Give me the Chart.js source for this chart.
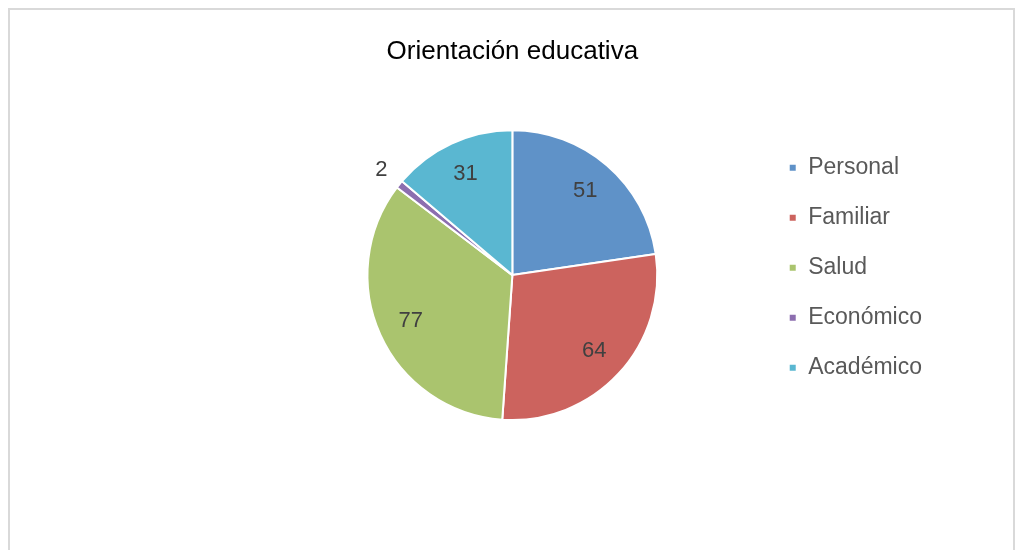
<!DOCTYPE html>
<html>
<head>
<meta charset="utf-8">
<script src="https://cdn.jsdelivr.net/npm/chart.js@4/dist/chart.umd.min.js"></script>
<style>
  body { margin: 0; background: #fff; }
  #frame { position: absolute; left: 8px; top: 8px; width: 1003px; height: 600px; border: 2px solid #d9d9d9; }
  #wrap { position: absolute; left: 0; top: 0; width: 1017px; height: 550px; }
</style>
</head>
<body>
<div id="frame"></div>
<div id="wrap"><canvas id="myChart"></canvas></div>
<script>
const categories = ['Personal', 'Familiar', 'Salud', 'Económico', 'Académico'];
const values = [51, 64, 77, 2, 31];
const colors = ['rgb(95,146,200)', 'rgb(204,99,94)', 'rgb(170,196,110)', 'rgb(140,110,175)', 'rgb(90,183,209)'];

// labels inside the slices, the tiny one outside
const sliceLabels = {
    id: 'sliceLabels',
    afterDatasetsDraw(chart) {
        const ctx = chart.ctx;
        const meta = chart.getDatasetMeta(0);
        ctx.save();
        ctx.font = '22px "Liberation Sans", Arial, sans-serif';
        ctx.fillStyle = '#404040';
        ctx.textAlign = 'center';
        ctx.textBaseline = 'middle';
        meta.data.forEach(function (arc, i) {
            const p = arc.getProps(['x', 'y', 'startAngle', 'endAngle', 'outerRadius']);
            const mid = (p.startAngle + p.endAngle) / 2;
            const r = values[i] < 5 ? p.outerRadius * 1.16 : p.outerRadius * 0.77;
            ctx.fillText(String(values[i]), p.x + Math.cos(mid) * r, p.y + Math.sin(mid) * r);
        });
        ctx.restore();
    }
};

document.addEventListener("DOMContentLoaded", function () {
    const data = {
        labels: categories,
        datasets: [{
            data: values,
            backgroundColor: colors,
            borderColor: '#ffffff',
            borderWidth: 2,
            hoverOffset: 0,
        }]
    }
    const config = {
        type: 'pie',
        data: data,
        plugins: [sliceLabels],
        options: {
            responsive: true,
            maintainAspectRatio: false,
            animation: false,
            layout: { padding: { left: 263, right: 85, top: 0, bottom: 129 } },
            plugins: {
                title: {
                    display: true,
                    fullSize: false,
                    text: 'Orientación educativa',
                    color: '#000000',
                    font: { family: '"Liberation Sans", Arial, sans-serif', size: 26, weight: 'normal' },
                    padding: { top: 36, bottom: 62 },
                },
                legend: {
                    position: 'right',
                    align: 'start',
                    fullSize: false,
                    labels: {
                        boxWidth: 8,
                        boxHeight: 8,
                        padding: 27,
                        color: '#595959',
                        font: { family: '"Liberation Sans", Arial, sans-serif', size: 23 },
                    }
                },
                tooltip: { enabled: false },
            }
        }
    }
    new Chart(document.getElementById('myChart'), config);
})
</script>
</body>
</html>
